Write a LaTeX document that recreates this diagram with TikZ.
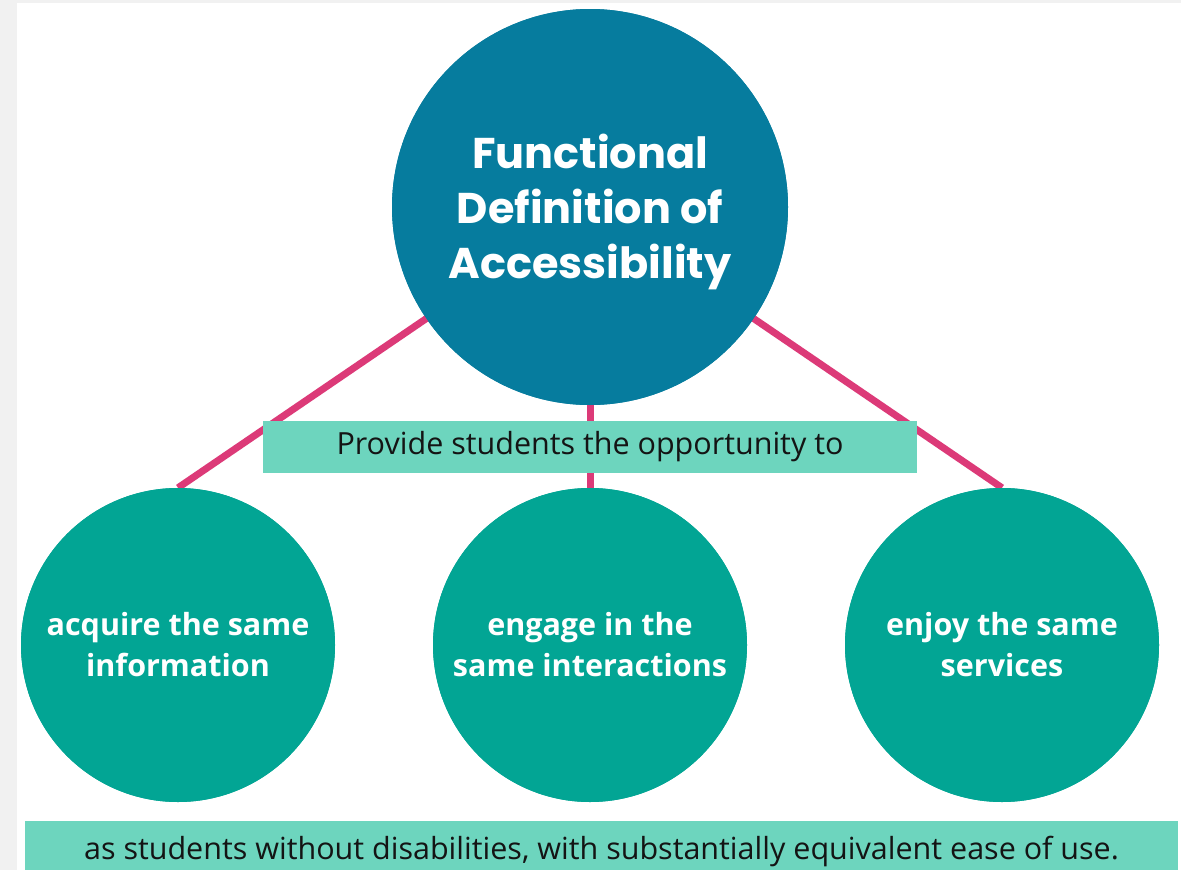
\documentclass[tikz,border=0pt]{standalone}
\usepackage{fontspec}
\setmainfont{Open Sans}
\newfontfamily\titlefont{Poppins}
\definecolor{topblue}{HTML}{067C9E}
\definecolor{teal}{HTML}{02A594}
\definecolor{barmint}{HTML}{6DD5BE}
\definecolor{pinkline}{HTML}{DC3A78}
\definecolor{pagegray}{HTML}{F1F1F1}
\definecolor{txtdark}{HTML}{141414}
\tikzset{
  topcircle/.style={circle, fill=topblue, minimum size=396pt, inner sep=0pt, text=white, align=center, font=\titlefont\bfseries\fontsize{43}{55}\selectfont},
  subcircle/.style={circle, fill=teal, minimum size=314pt, inner sep=0pt, text=white, align=center, font=\bfseries\fontsize{30.5}{41}\selectfont},
  mintbar/.style={rectangle, fill=barmint, inner sep=0pt, text=txtdark, font=\fontsize{30.5}{36}\selectfont},
  link/.style={draw=pinkline, line width=7pt}
}
\begin{document}
\begin{tikzpicture}[x=1pt,y=-1pt]
\useasboundingbox (0,0) rectangle (1181,870);
\fill[pagegray] (0,0) rectangle (1181,870);
\fill[white] (17,3) rectangle (1181,870);
% nodes
\node[topcircle] (top) at (590,207) {};
\node[subcircle] (left) at (178,645) {};
\node[subcircle] (mid) at (590,645) {};
\node[subcircle] (right) at (1002,645) {};
% connectors behind
\draw[link] (top.center) -- (left.north);
\draw[link] (top.center) -- (mid.north);
\draw[link] (top.center) -- (right.north);
% redraw circles on top
\node[topcircle] (topc) at (590,207) {};
\node[text=white, align=center, font=\titlefont\bfseries\fontsize{43}{55}\selectfont, inner sep=0pt] (title) at (590,212) {Functional\\Definition of\\Accessibility};
\node[subcircle] (leftc) at (178,645) {acquire the same\\information};
\node[subcircle] (midc) at (590,645) {engage in the\\same interactions};
\node[subcircle] (rightc) at (1002,645) {enjoy the same\\services};
% bars
\node[mintbar, minimum width=654pt, minimum height=52pt] (provide) at (590,446.5) {\raisebox{-1pt}{Provide students the opportunity to}};
\node[mintbar, minimum width=1153pt, minimum height=60pt] (ease) at (601.5,851) {\raisebox{3pt}{as students without disabilities, with substantially equivalent ease of use.}};
\end{tikzpicture}
\end{document}
